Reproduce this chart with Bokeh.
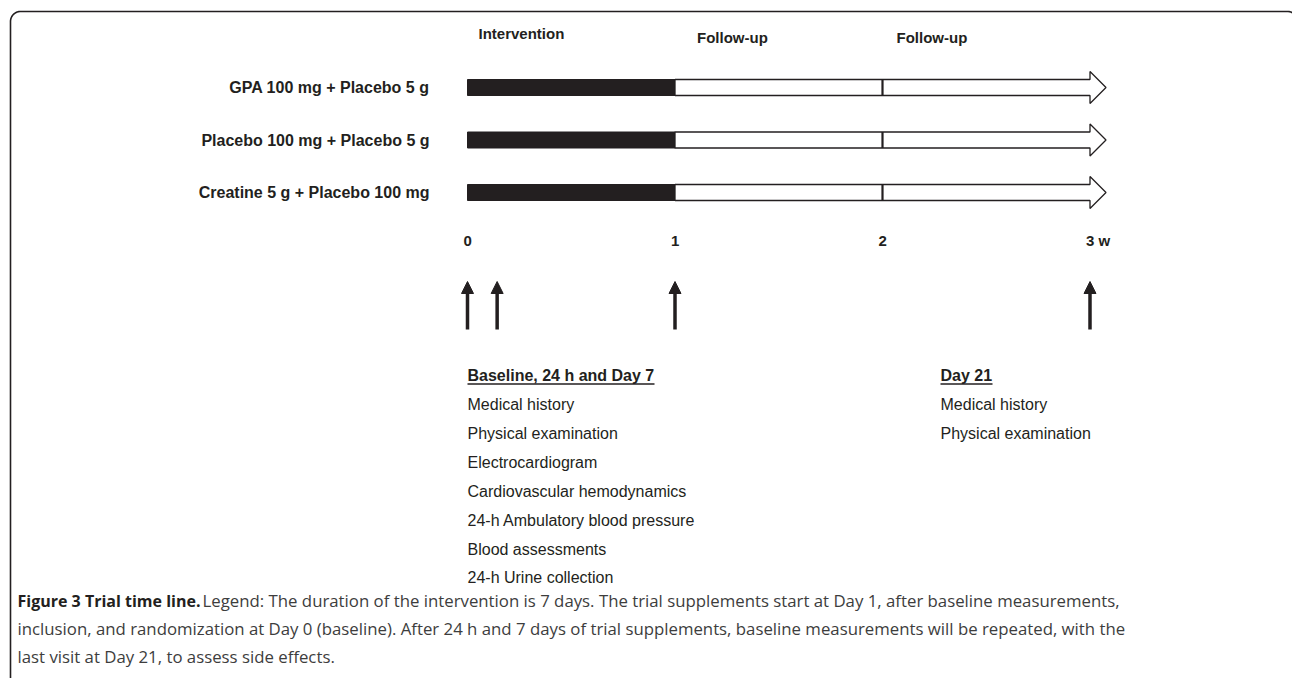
import numpy as np
from bokeh.plotting import figure
from bokeh.models import Range1d, ColumnDataSource, Arrow, NormalHead
from bokeh.core.properties import value
from bokeh.embed import file_html
from bokeh.resources import INLINE

# ---------------- data ----------------
groups = ["GPA 100 mg + Placebo 5 g",
          "Placebo 100 mg + Placebo 5 g",
          "Creatine 5 g + Placebo 100 mg"]
phase_labels = ["Intervention", "Follow-up", "Follow-up"]
phase_start = [0, 1, 2]          # weeks
phase_end = [1, 2, 3]            # weeks
intervention_end = 1             # weeks (black part)
followup_mark = 2                # weeks (tick inside the white arrow)
timeline_end = 3                 # weeks
tick_weeks = [0, 1, 2, 3]
tick_labels = ["0", "1", "2", "3 w"]
visit_days = [0, 1, 7, 21]
visit_weeks = [d / 7 for d in visit_days]

block1_title = "Baseline, 24 h and Day 7"
block1_items = ["Medical history", "Physical examination", "Electrocardiogram",
                "Cardiovascular hemodynamics", "24-h Ambulatory blood pressure",
                "Blood assessments", "24-h Urine collection"]
block2_title = "Day 21"
block2_items = ["Medical history", "Physical examination"]

caption_bold = "Figure 3 Trial time line."
caption_lines = [
    "Legend: The duration of the intervention is 7 days. The trial supplements start at Day 1, after baseline measurements,",
    "inclusion, and randomization at Day 0 (baseline). After 24 h and 7 days of trial supplements, baseline measurements will be repeated, with the",
    "last visit at Day 21, to assess side effects.",
]

# ---------------- layout helpers (pixel geometry) ----------------
W, H = 1292, 678
X0, PXW = 467.0, 207.5            # pixel of week 0, pixels per week


def X(px):
    return (px - X0) / PXW


INK = "#231f20"
SANS = value("Liberation Sans")
CAP_FONT = value("Open Sans")

p = figure(width=W, height=H, output_backend="svg", toolbar_location=None,
           x_range=Range1d(X(0), X(W)), y_range=Range1d(H, 0),
           x_axis_location=None, y_axis_location=None, min_border=0,
           background_fill_color="white", border_fill_color="white")
p.outline_line_color = None
p.grid.visible = False

# frame (rounded top corners; right side runs off the page)
t = np.linspace(0, np.pi / 2, 20)
fx = [10, 10] + list(20 - 10 * np.cos(t)) + list(1287 + 10 * np.sin(t)) + [1297]
fy = [H + 10, 21] + list(21 - 10 * np.sin(t)) + list(21 - 10 * np.cos(t)) + [H + 10]
p.line([X(v) for v in fx], fy, line_color=INK, line_width=1.6)

# rows
row_y = [87 + 52.5 * i for i in range(len(groups))]
half = 8
head_half = 16
head_len = X(16) - X(0)

p.text(x=[X(429)] * len(groups), y=row_y, text=groups, text_align="right",
       text_baseline="middle", text_font=SANS, text_font_style="bold",
       text_font_size="16px", text_color=INK)

# black intervention bars
p.quad(left=[phase_start[0]] * len(groups), right=[intervention_end] * len(groups),
       top=[y - half for y in row_y], bottom=[y + half for y in row_y],
       fill_color=INK, line_color=INK, line_width=1)

# white follow-up arrows
xs, ys = [], []
for y in row_y:
    xs.append([intervention_end, timeline_end, timeline_end, timeline_end + head_len,
               timeline_end, timeline_end, intervention_end])
    ys.append([y - half, y - half, y - head_half, y, y + head_half, y + half, y + half])
p.patches(xs, ys, fill_color="white", line_color=INK, line_width=1.3)
p.segment(x0=[followup_mark] * len(groups), x1=[followup_mark] * len(groups),
          y0=[y - half for y in row_y], y1=[y + half for y in row_y],
          line_color=INK, line_width=2.2)

# phase headers
p.text(x=phase_start, y=[33, 37, 37], text=phase_labels, x_offset=[11, 22, 14],
       text_align="left", text_baseline="middle", text_font=SANS,
       text_font_style="bold", text_font_size="15px", text_color=INK)

# week tick labels
p.text(x=tick_weeks, y=[240] * len(tick_weeks), text=tick_labels, x_offset=-4,
       text_align="left", text_baseline="middle", text_font=SANS,
       text_font_style="bold", text_font_size="15px", text_color=INK)

# visit arrows
vsrc = ColumnDataSource(dict(x=visit_weeks, y0=[329] * len(visit_weeks),
                             y1=[281] * len(visit_weeks)))
p.add_layout(Arrow(end=NormalHead(size=12, fill_color=INK, line_color=INK, line_width=1),
                   x_start="x", y_start="y0", x_end="x", y_end="y1", source=vsrc,
                   line_color=INK, line_width=3.5))


# assessment blocks
def block(px, title, items, ul_w):
    p.text(x=[X(px)], y=[375], text=[title], text_align="left", text_baseline="middle",
           text_font=SANS, text_font_style="bold", text_font_size="16px", text_color=INK)
    p.segment(x0=[X(px)], x1=[X(px + ul_w)], y0=[383.5], y1=[383.5],
              line_color=INK, line_width=1.5)
    p.text(x=[X(px)] * len(items), y=[404 + 28.9 * i for i in range(len(items))],
           text=items, text_align="left", text_baseline="middle", text_font=SANS,
           text_font_size="16px", text_color=INK)


block(467, block1_title, block1_items, 187)
block(940, block2_title, block2_items, 52)

# caption
cap_y = [600, 628, 656]
p.text(x=[X(17)], y=[cap_y[0]], text=[caption_bold], text_align="left",
       text_baseline="middle", text_font=CAP_FONT, text_font_style="bold",
       text_font_size="16px", text_color=INK)
p.text(x=[X(202), X(17), X(17)], y=cap_y, text=caption_lines, text_align="left",
       text_baseline="middle", text_font=CAP_FONT, text_font_size="16.8px",
       text_color="#3d3d3d")

open("out.html", "w").write(file_html(p, INLINE))
